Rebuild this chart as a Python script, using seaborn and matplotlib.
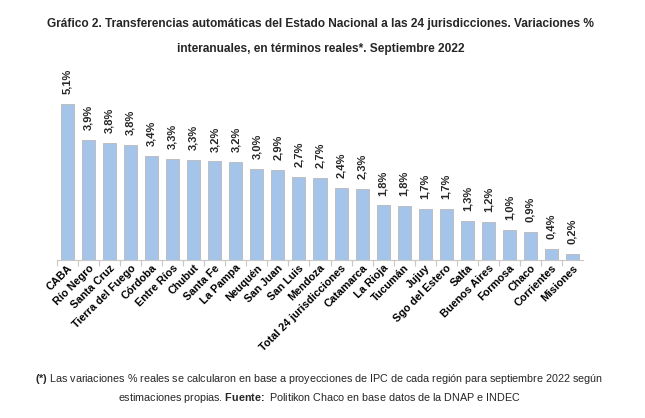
import pandas as pd
import numpy as np
import matplotlib
matplotlib.use("Agg")
import matplotlib.pyplot as plt
import seaborn as sns

# datos
jurisdicciones = ["CABA", "Río Negro", "Santa Cruz", "Tierra del Fuego", "Córdoba",
                  "Entre Ríos", "Chubut", "Santa Fe", "La Pampa", "Neuquén",
                  "San Juan", "San Luis", "Mendoza", "Total 24 jurisdicciones",
                  "Catamarca", "La Rioja", "Tucumán", "Jujuy", "Sgo del Estero",
                  "Salta", "Buenos Aires", "Formosa", "Chaco", "Corrientes", "Misiones"]
variacion = [5.10, 3.92, 3.83, 3.76, 3.40, 3.30, 3.27, 3.22, 3.19, 2.96,
             2.93, 2.71, 2.68, 2.36, 2.31, 1.78, 1.76, 1.68, 1.68, 1.27,
             1.23, 0.98, 0.91, 0.37, 0.20]

sns.set_theme(style="white")
plt.rcParams["font.family"] = ["Liberation Sans", "DejaVu Sans"]
plt.rcParams["mathtext.fontset"] = "custom"
plt.rcParams["mathtext.rm"] = "Liberation Sans"
plt.rcParams["mathtext.bf"] = "Liberation Sans:bold"

df = pd.DataFrame({"Jurisdiccion": jurisdicciones, "Variacion": variacion})

fig = plt.figure(figsize=(6.45, 4.18), dpi=100)
ax = fig.add_axes([57 / 645, 158 / 418, 526 / 645, 190 / 418])

sns.barplot(data=df, x="Jurisdiccion", y="Variacion", ax=ax, color="#a4c5e9",
            saturation=1, width=0.62, edgecolor="#b8b8b8", linewidth=0.6)

ax.set_xlim(-0.5, len(df) - 0.5)
ax.set_ylim(0, 6.2)
ax.set_xlabel("")
ax.set_ylabel("")
ax.set_yticks([])
for s in ["top", "right", "left"]:
    ax.spines[s].set_visible(False)
ax.spines["bottom"].set_color("#c8c8c8")
ax.spines["bottom"].set_linewidth(0.8)

# ticks entre categorias
ax.set_xticks(np.arange(len(df)) - 0.5, minor=True)
ax.tick_params(axis="x", which="minor", length=4, color="#c8c8c8", width=0.8, bottom=True)
ax.tick_params(axis="x", which="major", length=0, pad=2)
ax.set_xticks(np.arange(len(df)))
ax.set_xticklabels(df["Jurisdiccion"], rotation=45, ha="right", rotation_mode="anchor",
                   fontsize=7.8, fontweight="bold", color="black")

# etiquetas de valores
for i, v in enumerate(df["Variacion"]):
    ax.text(i, v + 0.32, f"{v:.1f}%".replace(".", ","), rotation=90, ha="center",
            va="bottom", fontsize=8, fontweight="bold")

fig.text(0.497, 1 - 24 / 418, "Gráfico 2. Transferencias automáticas del Estado Nacional a las 24 jurisdicciones. Variaciones %",
         ha="center", va="center", fontsize=8.6, fontweight="bold")
fig.text(0.497, 1 - 49 / 418, "interanuales, en términos reales*. Septiembre 2022",
         ha="center", va="center", fontsize=8.6, fontweight="bold")

fig.text(0.495, 1 - 379 / 418,
         r"$\bf{(*)}$ Las variaciones % reales se calcularon en base a proyecciones de IPC de cada región para septiembre 2022 según",
         ha="center", va="center", fontsize=7.75)
fig.text(0.495, 1 - 398 / 418,
         r"estimaciones propias. $\bf{Fuente\!:}$ Politikon Chaco en base datos de la DNAP e INDEC",
         ha="center", va="center", fontsize=7.75)

fig.savefig("out.png", dpi=100, facecolor="white")
